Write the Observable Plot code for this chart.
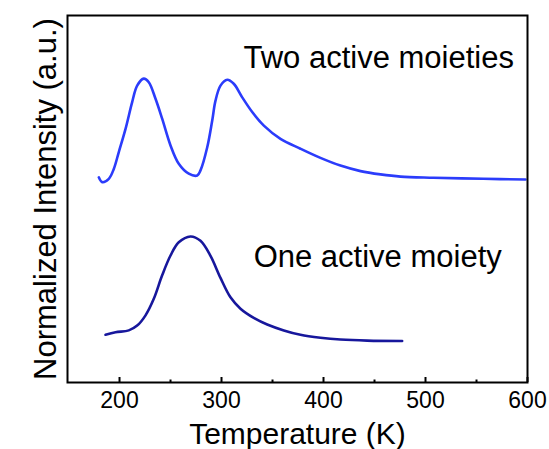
<!DOCTYPE html>
<html>
<head>
<meta charset="utf-8">
<script src="https://cdn.jsdelivr.net/npm/d3@7"></script>
<script src="https://cdn.jsdelivr.net/npm/@observablehq/plot@0.6"></script>
<style>
  html, body { margin: 0; padding: 0; background: #fff; }
  #chart svg { display: block; }
</style>
</head>
<body>
<div id="chart"></div>
<script>
// Temperature (K) and normalized intensity (a.u.)
const twoTemp = [179.7, 183.0, 189.5, 194.4, 199.3, 205.9, 212.4, 217.3, 223.8, 228.7, 235.3, 241.8, 250.0, 258.1, 267.9, 276.2, 279.4, 286.0, 290.9, 294.1, 299.0, 305.6, 312.0, 320.3, 330.1, 341.5, 357.8, 377.4, 397.0, 416.6, 436.3, 455.9, 475.5, 507.8, 556.8, 598.0];
const twoInt  = [5.59, 5.46, 5.55, 5.82, 6.28, 6.91, 7.64, 8.09, 8.28, 8.18, 7.73, 7.19, 6.46, 5.96, 5.69, 5.64, 5.78, 6.41, 7.14, 7.68, 8.09, 8.25, 8.14, 7.77, 7.37, 7.00, 6.64, 6.37, 6.12, 5.91, 5.76, 5.67, 5.61, 5.58, 5.55, 5.53];

const oneTemp = [186.3, 196.1, 209.1, 217.3, 225.5, 233.6, 241.8, 250.0, 258.1, 269.6, 279.4, 289.2, 299.0, 308.8, 318.6, 331.6, 344.8, 361.1, 377.4, 397.0, 416.6, 442.8, 477.1];
const oneInt  = [1.30, 1.37, 1.42, 1.55, 1.83, 2.28, 2.92, 3.46, 3.82, 3.98, 3.86, 3.45, 2.85, 2.32, 2.01, 1.76, 1.58, 1.42, 1.30, 1.22, 1.17, 1.14, 1.13];

const majorTicks = [200, 300, 400, 500, 600];
const minorTicks = [250, 350, 450, 550];

const labelText = ["Two active moieties", "One active moiety"];
const labelTemp = [321.5, 331.5];
const labelInt  = [8.84, 3.42];

const xTitle = "Temperature (K)";
const yTitle = "Normalized Intensity (a.u.)";

const two = twoTemp.map((t, i) => ({t, v: twoInt[i]}));
const one = oneTemp.map((t, i) => ({t, v: oneInt[i]}));
const labels = labelText.map((s, i) => ({s, t: labelTemp[i], v: labelInt[i]}));

const font = "'Liberation Sans', Arial, Helvetica, sans-serif";

const chart = Plot.plot({
  width: 549,
  height: 449,
  marginLeft: 67,
  marginRight: 22,
  marginTop: 15,
  marginBottom: 67,
  style: {fontFamily: font, color: "#000", background: "#fff"},
  x: {domain: [149, 600]},
  y: {domain: [0, 10], axis: null},
  marks: [
    Plot.axisX(minorTicks, {tickSize: -2.5, strokeWidth: 2, fill: "none", label: null}),
    Plot.axisX(majorTicks, {tickSize: -5, strokeWidth: 2, fill: "none", label: null}),
    Plot.axisX(majorTicks, {tickSize: 0, tickPadding: 9, fontSize: 23, fill: "#000", label: null}),
    Plot.line(two, {x: "t", y: "v", stroke: "#2b3cfb", strokeWidth: 2.6, curve: "catmull-rom"}),
    Plot.line(one, {x: "t", y: "v", stroke: "#17179c", strokeWidth: 2.6, curve: "catmull-rom"}),
    Plot.text(labels, {x: "t", y: "v", text: "s", textAnchor: "start", fontSize: 31, fill: "#000"}),
    Plot.text([xTitle], {frameAnchor: "bottom", dy: 52, lineAnchor: "middle", fontSize: 30, fill: "#000"}),
    Plot.text([yTitle], {frameAnchor: "left", rotate: -90, dx: -21, textAnchor: "middle", lineAnchor: "middle", fontSize: 31, fill: "#000"}),
    Plot.frame({stroke: "#000", strokeWidth: 2})
  ]
});
document.getElementById("chart").appendChild(chart);
</script>
</body>
</html>
